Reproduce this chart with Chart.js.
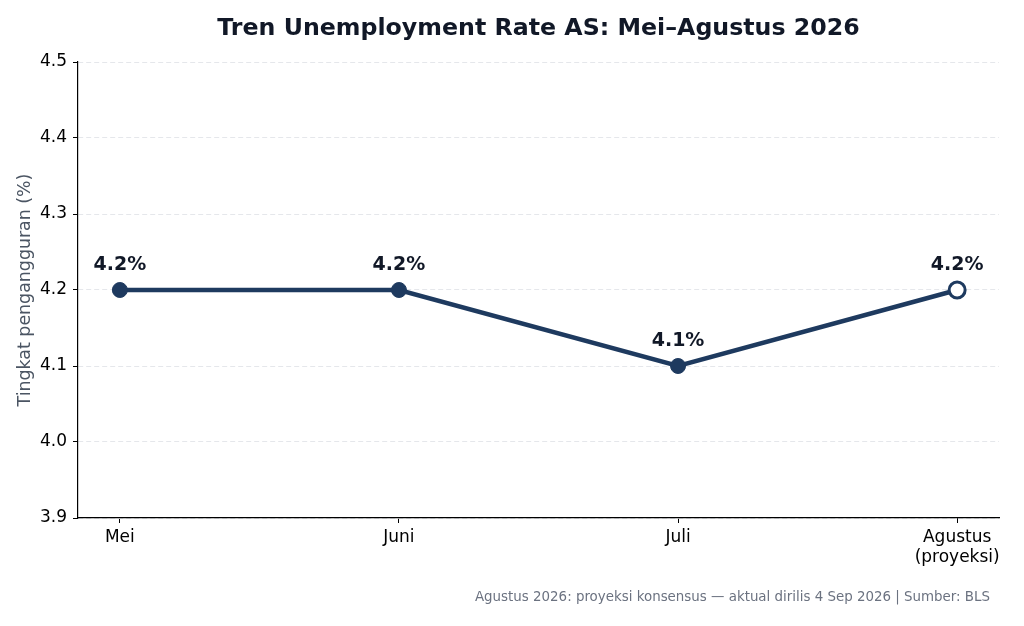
<!DOCTYPE html>
<html>
<head>
<meta charset="utf-8">
<script src="https://cdn.jsdelivr.net/npm/chart.js@4.4.1/dist/chart.umd.min.js"></script>
<style>
  html, body { margin: 0; padding: 0; background: #fff; }
  #wrap { width: 1024px; height: 626px; }
</style>
</head>
<body>
<div id="wrap"><canvas id="lineChart" width="1024" height="626"></canvas></div>
<script>
// Data (tingkat pengangguran AS, %)
const months = ['Mei', 'Juni', 'Juli', ['Agustus', '(proyeksi)']];
const rates = [4.2, 4.2, 4.1, 4.2];
const projected = [false, false, false, true];
const yTicks = [3.9, 4.0, 4.1, 4.2, 4.3, 4.4, 4.5];

const titleText = 'Tren Unemployment Rate AS: Mei\u2013Agustus 2026';
const footerText = 'Agustus 2026: proyeksi konsensus \u2014 aktual dirilis 4 Sep 2026 | Sumber: BLS';

const navy = '#1e3a5f';
const FONT = "'DejaVu Sans', sans-serif";

// Labels above points + title + footer
const extras = {
  id: 'extras',
  afterDatasetsDraw(chart) {
    const ctx = chart.ctx;
    const meta = chart.getDatasetMeta(0);
    ctx.save();
    ctx.fillStyle = '#111827';
    ctx.font = 'bold 19px ' + FONT;
    ctx.textAlign = 'center';
    ctx.textBaseline = 'middle';
    meta.data.forEach((pt, i) => {
      ctx.fillText(rates[i].toFixed(1) + '%', pt.x, pt.y - 25);
    });
    ctx.restore();
  },
  afterDraw(chart) {
    const ctx = chart.ctx;
    const area = chart.chartArea;
    ctx.save();
    ctx.fillStyle = '#111827';
    ctx.font = 'bold 23.7px ' + FONT;
    ctx.textAlign = 'center';
    ctx.textBaseline = 'middle';
    ctx.fillText(titleText, (area.left + area.right) / 2, 29);

    ctx.fillStyle = '#6b7280';
    ctx.font = '13.4px ' + FONT;
    ctx.textAlign = 'right';
    ctx.fillText(footerText, 990, 598);
    ctx.restore();
  }
};

const ctxLine = document.getElementById('lineChart').getContext('2d');
const lineChart = new Chart(ctxLine, {
  type: 'line',
  data: {
    datasets: [{
      data: rates.map((v, i) => ({ x: i, y: v })),
      borderColor: navy,
      borderWidth: 4.5,
      tension: 0,
      fill: false,
      pointRadius: projected.map(p => p ? 8 : 7.5),
      pointBackgroundColor: projected.map(p => p ? '#ffffff' : navy),
      pointBorderColor: navy,
      pointBorderWidth: projected.map(p => p ? 3 : 1),
      clip: false
    }]
  },
  options: {
    responsive: false,
    animation: false,
    devicePixelRatio: 1,
    layout: { padding: { top: 62, right: 25, left: 0, bottom: 0 } },
    plugins: {
      legend: { display: false },
      title: { display: false },
      tooltip: { enabled: false }
    },
    scales: {
      x: {
        type: 'linear',
        min: -0.15,
        max: 3.15,
        afterBuildTicks: s => { s.ticks = months.map((_, i) => ({ value: i })); },
        afterFit: s => { s.height = 108; },
        ticks: {
          callback: v => months[v],
          color: '#000',
          font: { family: FONT, size: 17 },
          padding: 4,
          maxRotation: 0,
          autoSkip: false
        },
        grid: { drawOnChartArea: false, tickLength: 5, tickColor: '#000', tickWidth: 1 },
        border: { display: true, color: '#000', width: 1.2 }
      },
      y: {
        min: 3.9,
        max: 4.5,
        afterBuildTicks: s => { s.ticks = yTicks.map(v => ({ value: v })); },
        afterFit: s => { s.width = 78; },
        ticks: {
          callback: v => v.toFixed(1),
          color: '#000',
          font: { family: FONT, size: 17 },
          padding: 6
        },
        title: {
          display: true,
          text: 'Tingkat pengangguran (%)',
          color: '#4b5563',
          font: { family: FONT, size: 17.4 },
          padding: { top: 15, bottom: 0 }
        },
        grid: {
          color: '#e5e7eb',
          lineWidth: 1,
          borderDash: [5, 3],
          tickLength: 5,
          tickColor: '#000',
          tickWidth: 1,
          tickBorderDash: []
        },
        border: { display: true, color: '#000', width: 1.2, dash: [5, 3] }
      }
    }
  },
  plugins: [extras]
});
</script>
</body>
</html>
